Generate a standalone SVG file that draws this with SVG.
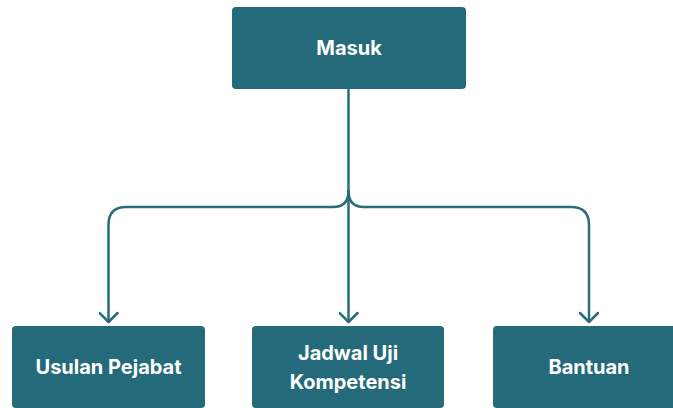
<svg xmlns="http://www.w3.org/2000/svg" width="673" height="408" viewBox="0 0 673 408">
<defs>
<style>
.box{fill:#246a7a;}
.lbl{fill:#ffffff;font-family:Inter,"Liberation Sans",sans-serif;font-weight:700;font-size:20px;text-anchor:middle;dominant-baseline:central;}
.ln{fill:none;stroke:#2a6b7c;stroke-width:2.5;stroke-linecap:round;stroke-linejoin:round;}
</style>
<marker id="arr" viewBox="0 0 12 20" refX="11" refY="10" markerWidth="12" markerHeight="20" markerUnits="userSpaceOnUse" orient="auto">
<path d="M2 1 L11 10 L2 19" fill="none" stroke="#2a6b7c" stroke-width="2.5" stroke-linecap="round" stroke-linejoin="round"/>
</marker>
</defs>
<g id="connectors">
<path class="ln" d="M348.5 89 V322" marker-end="url(#arr)"/>
<path class="ln" d="M348.5 191 Q348.5 207 333 207 H126 Q108.5 207 108.5 225 V322" marker-end="url(#arr)"/>
<path class="ln" d="M348.5 191 Q348.5 207 364 207 H571 Q589 207 589 225 V322" marker-end="url(#arr)"/>
</g>
<g id="node-masuk">
<rect class="box" x="232" y="7" width="234" height="82" rx="4"/>
<text class="lbl" x="349" y="48">Masuk</text>
</g>
<g id="node-usulan">
<rect class="box" x="12" y="326" width="193" height="82" rx="4"/>
<text class="lbl" x="108.5" y="367">Usulan Pejabat</text>
</g>
<g id="node-jadwal">
<rect class="box" x="252" y="326" width="192" height="82" rx="4"/>
<text class="lbl" x="348" y="353">Jadwal Uji</text>
<text class="lbl" x="348" y="382">Kompetensi</text>
</g>
<g id="node-bantuan">
<rect class="box" x="493" y="326" width="193" height="82" rx="4"/>
<text class="lbl" x="589" y="367">Bantuan</text>
</g>
</svg>
